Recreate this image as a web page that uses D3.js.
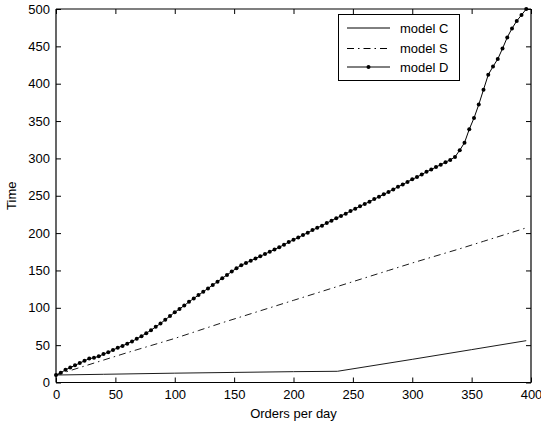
<!DOCTYPE html>
<html>
<head>
<meta charset="utf-8">
<script src="https://cdn.jsdelivr.net/npm/d3@7"></script>
<style>
  html, body { margin: 0; padding: 0; background: #fff; }
  svg { display: block; font-family: "Liberation Sans", Arial, sans-serif; }
</style>
</head>
<body>
<svg id="chart" width="541" height="425"></svg>
<script>
// ---- data ----
const xTicks = [0, 50, 100, 150, 200, 250, 300, 350, 400];
const yTicks = [0, 50, 100, 150, 200, 250, 300, 350, 400, 450, 500];
const seriesNames = ["model C", "model S", "model D"];

const modelCx = [0, 40, 100, 150, 200, 237, 300, 350, 396];
const modelCy = [10, 11, 12.5, 13.5, 14.5, 15, 31, 44, 56];

const modelSx = [0, 20, 40, 60, 80, 100, 120, 140, 160, 180, 200, 220, 240, 260, 280, 300, 320, 340, 360, 380, 396];
const modelSy = [10, 20, 30, 40, 49.5, 59, 69.5, 80, 90, 100, 110, 120, 130, 140, 150, 160, 169.5, 179, 189, 199, 207];

const modelDx = [0,4,8,12,16,20,24,28,32,36,40,44,48,52,56,60,64,68,72,76,80,84,88,92,96,100,104,108,112,116,120,124,128,132,136,140,144,148,152,156,160,164,168,172,176,180,184,188,192,196,200,204,208,212,216,220,224,228,232,236,240,244,248,252,256,260,264,268,272,276,280,284,288,292,296,300,304,308,312,316,320,324,328,332,336,340,344,348,352,356,360,364,368,372,376,380,384,388,392,396];
const modelDy = [10,13,17,20,23,26,29,32,33,35,38,40.5,43.5,46.5,49,52,55,58.5,62,66,70,74.5,79,84,89,94,98.5,103,108,112.5,117,121.5,126,130.5,135,139.5,144,148.5,153,157,160,163,166,169,172,175,178,181,184.5,188,191,194,197.5,200.5,204,207,210,213.5,216.5,220,223,226,229.5,232.5,236,239,242,245.5,248.5,252,255,258.5,262,265,268.5,272,275,278.5,282,285,288.5,291.5,295,298,302,311,321,339,354,372,392,412,423,433,447,462,474,484,492,500];

// ---- layout ----
const svg = d3.select("#chart");
const mL = 56, mR = 531, mT = 9, mB = 382.5;
const x = d3.scaleLinear().domain([0, 400]).range([mL, mR]);
const y = d3.scaleLinear().domain([0, 500]).range([mB, mT]);

const toPts = (xs, ys) => xs.map((v, i) => [v, ys[i]]);
const line = d3.line().x(d => x(d[0])).y(d => y(d[1]));

const g = svg.append("g");

// series
g.append("path").datum(toPts(modelCx, modelCy)).attr("d", line)
  .attr("fill", "none").attr("stroke", "#000").attr("stroke-width", 0.9);
g.append("path").datum(toPts(modelSx, modelSy)).attr("d", line)
  .attr("fill", "none").attr("stroke", "#000").attr("stroke-width", 0.9)
  .attr("stroke-dasharray", "7,4,1.5,4");
const dPts = toPts(modelDx, modelDy);
g.append("path").datum(dPts).attr("d", line)
  .attr("fill", "none").attr("stroke", "#000").attr("stroke-width", 1);
g.selectAll("circle.d").data(dPts).enter().append("circle")
  .attr("class", "d").attr("cx", d => x(d[0])).attr("cy", d => y(d[1]))
  .attr("r", 2).attr("fill", "#000");

// axes (box with inward ticks on all sides)
const tl = 5;
const axB = d3.axisBottom(x).tickValues(xTicks).tickSize(-tl).tickPadding(7).tickFormat(d3.format("d"));
const axT = d3.axisTop(x).tickValues(xTicks).tickSize(-tl).tickFormat("");
const axL = d3.axisLeft(y).tickValues(yTicks).tickSize(-tl).tickPadding(6).tickFormat(d3.format("d"));
const axR = d3.axisRight(y).tickValues(yTicks).tickSize(-tl).tickFormat("");

function style(sel) {
  sel.select(".domain").attr("stroke", "#000").attr("stroke-width", 1.2);
  sel.selectAll(".tick line").attr("stroke", "#000");
  sel.selectAll(".tick text").attr("fill", "#000").style("font-size", "13px")
     .style("font-family", "'Liberation Sans', Arial, sans-serif");
}
svg.append("g").attr("transform", `translate(0,${mB})`).call(axB).call(style).call(s => s.select(".domain").attr("d", `M${mL},0H${mR}`));
svg.append("g").attr("transform", `translate(0,${mT})`).call(axT).call(style).call(s => s.select(".domain").attr("d", `M${mL},0H${mR}`));
svg.append("g").attr("transform", `translate(${mL},0)`).call(axL).call(style).call(s => s.select(".domain").attr("d", `M0,${mT}V${mB}`));
svg.append("g").attr("transform", `translate(${mR},0)`).call(axR).call(style).call(s => s.select(".domain").attr("d", `M0,${mT}V${mB}`));

// axis labels
svg.append("text").attr("x", (mL + mR) / 2).attr("y", 418)
  .attr("text-anchor", "middle").style("font-size", "13px").text("Orders per day");
svg.append("text").attr("transform", `translate(16,${(mT + mB) / 2}) rotate(-90)`)
  .attr("text-anchor", "middle").style("font-size", "13px").text("Time");

// legend
const lg = svg.append("g");
lg.append("rect").attr("x", 338.5).attr("y", 14.5).attr("width", 121).attr("height", 66)
  .attr("fill", "#fff").attr("stroke", "#000").attr("stroke-width", 1);
const rowsY = [28, 48.5, 67];
const styles = [{dash: null, marker: false}, {dash: "7,4,1.5,4", marker: false}, {dash: null, marker: true}];
seriesNames.forEach((name, i) => {
  lg.append("line").attr("x1", 347).attr("x2", 390).attr("y1", rowsY[i]).attr("y2", rowsY[i])
    .attr("stroke", "#000").attr("stroke-width", 1)
    .attr("stroke-dasharray", styles[i].dash);
  if (styles[i].marker) lg.append("circle").attr("cx", 368.5).attr("cy", rowsY[i]).attr("r", 2).attr("fill", "#000");
  lg.append("text").attr("x", 400).attr("y", rowsY[i]).attr("dy", "0.35em")
    .style("font-size", "13px").text(name);
});
</script>
</body>
</html>
